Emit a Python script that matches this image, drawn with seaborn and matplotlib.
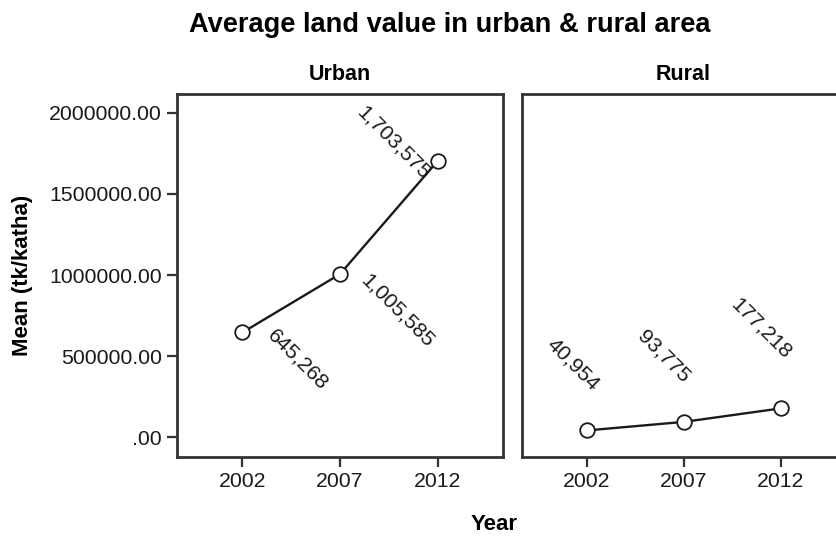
import matplotlib
matplotlib.use("Agg")
import matplotlib.pyplot as plt
from matplotlib.ticker import FuncFormatter
import seaborn as sns
import pandas as pd

# Mean land value (tk/katha) by survey year
years = [2002, 2007, 2012]
urban_values = [645268, 1005585, 1703575]
rural_values = [40954, 93775, 177218]
area_names = ["Urban", "Rural"]
y_ticks = [0, 500000, 1000000, 1500000, 2000000]

# Offsets (pixels) of each value label from its point
urban_label_offsets = [(55, -27), (57, -37), (-44, 18)]
rural_label_offsets = [(-14, 66), (-20, 65), (-20, 80)]

df = pd.DataFrame({
    "Year": years * 2,
    "Mean": urban_values + rural_values,
    "Area": [area_names[0]] * 3 + [area_names[1]] * 3,
})

sns.set_theme(style="white")
plt.rcParams["font.family"] = ["Liberation Sans", "DejaVu Sans"]
plt.rcParams["text.color"] = "black"

fig = plt.figure(figsize=(8.37, 5.36), dpi=100)
W, H = 837, 536


def axes_box(x0, x1, y0, y1):
    return [x0 / W, 1 - y1 / H, (x1 - x0) / W, (y1 - y0) / H]


ax_u = fig.add_axes(axes_box(177, 503, 94, 457))
ax_r = fig.add_axes(axes_box(522, 846, 94, 457))

frame_col = "#333333"

for ax, name, offsets in [(ax_u, area_names[0], urban_label_offsets),
                          (ax_r, area_names[1], rural_label_offsets)]:
    sub = df[df["Area"] == name]
    sns.lineplot(data=sub, x="Year", y="Mean", ax=ax, color="#1a1a1a",
                 linewidth=1.7, marker="o", markersize=10.5,
                 markerfacecolor="white", markeredgecolor="#1a1a1a",
                 markeredgewidth=1.3, errorbar=None)
    for xv, yv, (dx, dy) in zip(sub["Year"], sub["Mean"], offsets):
        ax.annotate(f"{int(yv):,}", (xv, yv), xytext=(dx, dy),
                    textcoords="offset pixels", rotation=-45,
                    ha="center", va="center", fontsize=15.3, color="#1a1a1a")
    ax.set_xlim(2002 - 3.35, 2012 + 3.35)
    ax.set_ylim(-123000, 2117000)
    ax.set_xticks(years)
    ax.set_xticklabels([str(y) for y in years])
    ax.set_yticks(y_ticks)
    ax.set_xlabel("")
    ax.set_ylabel("")
    for sp in ax.spines.values():
        sp.set_color(frame_col)
        sp.set_linewidth(2)
    ax.tick_params(axis="both", direction="out", length=7, width=1.6,
                   color=frame_col, labelsize=15.3, labelcolor="#1a1a1a",
                   pad=4)
    ax.tick_params(axis="y", left=True)
    ax.tick_params(axis="x", bottom=True)

ax_u.yaxis.set_major_formatter(
    FuncFormatter(lambda v, p: ".00" if v == 0 else f"{v:.2f}"))
ax_r.tick_params(axis="y", left=False, labelleft=False)

fig.text(340 / W, 1 - 75 / H, area_names[0], ha="center", va="center",
         fontsize=15.5, fontweight="bold")
fig.text(683 / W, 1 - 75 / H, area_names[1], ha="center", va="center",
         fontsize=15.5, fontweight="bold")
fig.text(450 / W, 1 - 25 / H, "Average land value in urban & rural area",
         ha="center", va="center", fontsize=19.6, fontweight="bold")
fig.text(494 / W, 1 - 524 / H, "Year", ha="center", va="center",
         fontsize=16, fontweight="bold")
fig.text(23 / W, 1 - 275 / H, "Mean (tk/katha)", ha="center", va="center",
         rotation=90, fontsize=16, fontweight="bold")

fig.savefig("out.png", dpi=100, facecolor="white")
